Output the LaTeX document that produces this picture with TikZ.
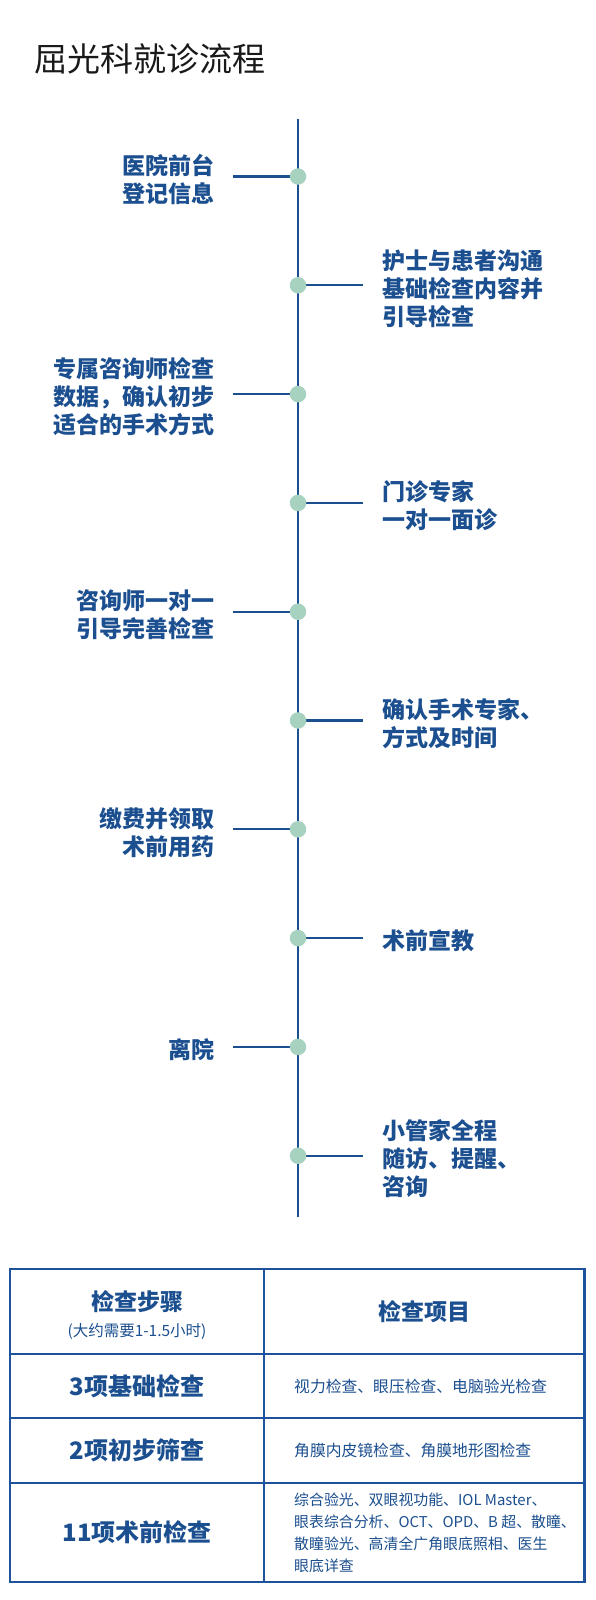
\documentclass[tikz,border=0pt]{standalone}
\usepackage{fontspec}
\newfontfamily\cjk{Noto Sans CJK SC}
\definecolor{myblue}{HTML}{1B4F8F}
\definecolor{tblue}{HTML}{1C539A}
\definecolor{mint}{HTML}{A6D2BF}
\begin{document}
\begin{tikzpicture}[x=1pt,y=-1pt,
  tl/.style={line width=2.6pt, draw=myblue},
  br/.style={line width=2.1pt, draw=myblue},
  dotc/.style={circle, fill=mint, minimum size=16.5pt, inner sep=0pt},
  lt/.style={anchor=east, align=right, text=myblue, inner sep=0pt, font=\cjk\bfseries\fontsize{23}{28}\selectfont},
  rt/.style={anchor=west, align=left, text=myblue, inner sep=0pt, font=\cjk\bfseries\fontsize{23}{28}\selectfont},
  tbl/.style={line width=2.8pt, draw=tblue},
  thd/.style={text=myblue, inner sep=0pt, font=\cjk\bfseries\fontsize{23}{28}\selectfont},
  tsub/.style={text=myblue, inner sep=0pt, font=\cjk\fontsize{15.5}{20}\selectfont},
  trow/.style={text=myblue, inner sep=0pt, font=\cjk\bfseries\fontsize{24}{28}\selectfont},
  titem/.style={anchor=west, align=left, text=myblue, inner sep=0pt, font=\cjk\fontsize{15.8}{22}\selectfont},
]
\useasboundingbox (0,0) rectangle (595,1600);
\fill[white] (0,0) rectangle (595,1600);

% title
\node[anchor=west, inner sep=0pt, text=black!90, font=\cjk\fontsize{33}{40}\selectfont] (title) at (34,59) {屈光科就诊流程};

% timeline
\coordinate (ltop) at (298,119);
\coordinate (lbot) at (298,1217);
\draw[tl] (ltop) -- (lbot);

\foreach \i/\side in {1/l,2/r,3/l,4/r,5/l,6/r,7/l,8/r,9/l,10/r}{
  \pgfmathsetmacro{\yy}{176.5+(\i-1)*108.8}
  \coordinate (c\i) at (298,\yy);
  \if l\side
    \coordinate (b\i) at (233,\yy);
  \else
    \coordinate (b\i) at (363,\yy);
  \fi
  \draw[br] (b\i) -- (c\i);
  \node[dotc] (d\i) at (c\i) {};
}

\node[lt] (t1) at (215,179.5) {医院前台\\登记信息};
\node[rt] (t2) at (382,288.3) {护士与患者沟通\\基础检查内容并\\引导检查};
\node[lt] (t3) at (215,397.1) {专属咨询师检查\\数据，确认初步\\适合的手术方式};
\node[rt] (t4) at (382,505.9) {门诊专家\\一对一面诊};
\node[lt] (t5) at (215,614.7) {咨询师一对一\\引导完善检查};
\node[rt] (t6) at (382,723.5) {确认手术专家、\\方式及时间};
\node[lt] (t7) at (215,832.3) {缴费并领取\\术前用药};
\node[rt] (t8) at (382,941.1) {术前宣教};
\node[lt] (t9) at (215,1049.9) {离院};
\node[rt] (t10) at (382,1158.7) {小管家全程\\随访、提醒、\\咨询};

% table
\coordinate (tl1) at (10,1269);
\coordinate (br1) at (584.5,1582);
\draw[tbl] (tl1) rectangle (br1);
\coordinate (v1) at (264,1269);
\coordinate (v2) at (264,1582);
\draw[tbl] (v1) -- (v2);
\foreach \yy/\n in {1354/a,1418/b,1483/c}{
  \coordinate (h\n1) at (10,\yy);
  \coordinate (h\n2) at (584.5,\yy);
  \draw[tbl] (h\n1) -- (h\n2);
}

\node[thd] (hd1) at (137,1302) {检查步骤};
\node[tsub] (hd2) at (137,1331) {(大约需要1-1.5小时)};
\node[thd] (hd3) at (424,1311.5) {检查项目};

\node[trow] (r1) at (137,1386) {3项基础检查};
\node[trow] (r2) at (137,1450.5) {2项初步筛查};
\node[trow] (r3) at (137,1532.5) {11项术前检查};

\node[titem] (i1) at (294,1386) {视力检查、眼压检查、电脑验光检查};
\node[titem] (i2) at (294,1450.5) {角膜内皮镜检查、角膜地形图检查};
\node[titem, font=\cjk\fontsize{14.9}{22}\selectfont] (i3) at (294,1532.5) {综合验光、双眼视功能、IOL Master、\\眼表综合分析、OCT、OPD、B 超、散瞳、\\散瞳验光、高清全广角眼底照相、医生\\眼底详查};
\end{tikzpicture}
\end{document}
